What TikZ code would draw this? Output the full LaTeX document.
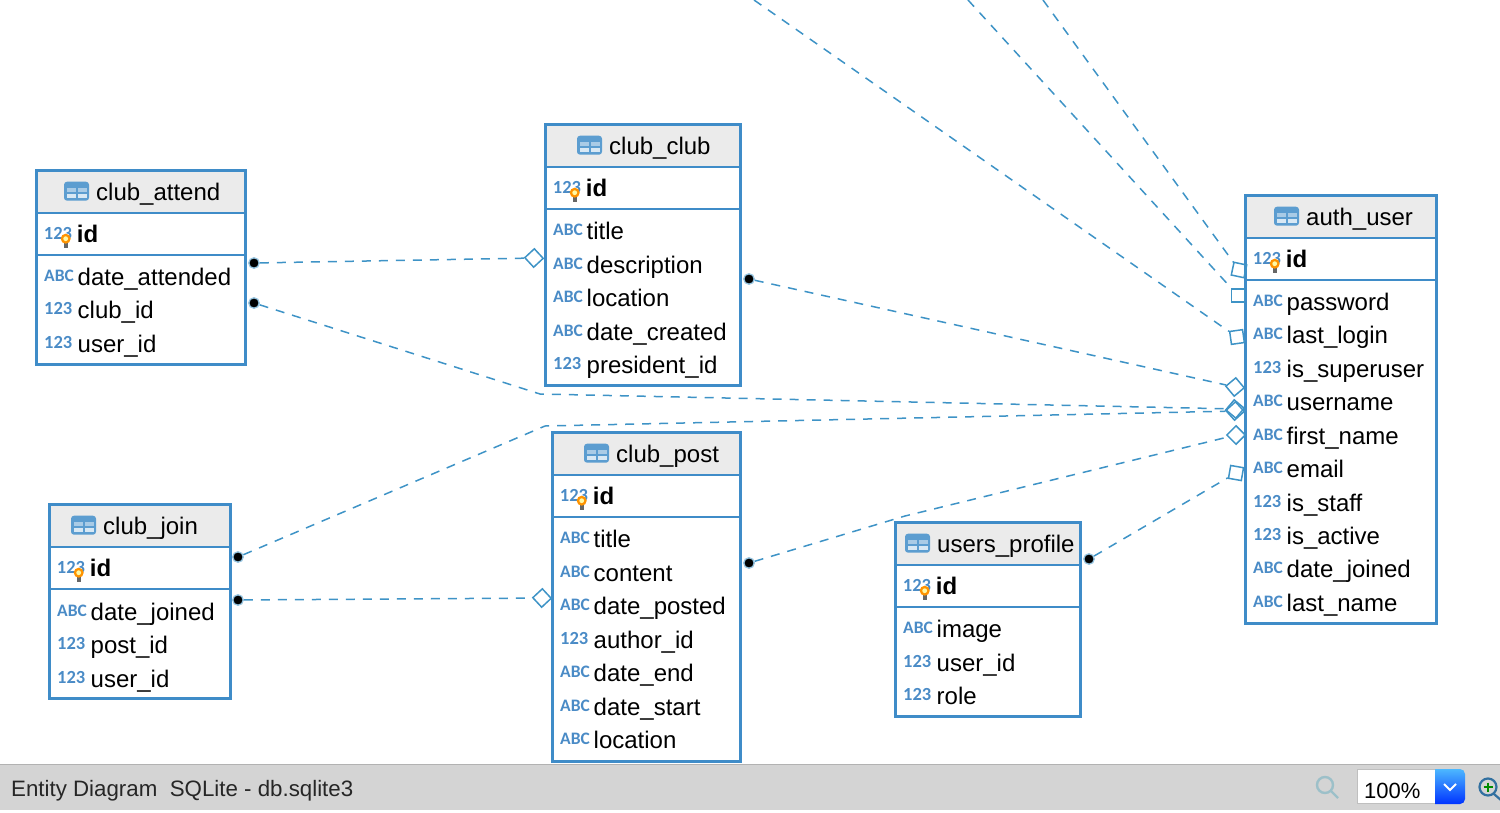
\documentclass[tikz,border=0pt]{standalone}
\usepackage{fontspec}
\setmainfont{Liberation Sans}
\newfontfamily\typefont{Carlito}
\usetikzlibrary{positioning}

\definecolor{erblue}{HTML}{3F8CC8}
\definecolor{linkblue}{HTML}{3E93C6}
\definecolor{typeblue}{HTML}{4A8BC6}
\definecolor{headgray}{HTML}{EBEBEB}
\definecolor{bargray}{HTML}{D4D4D4}

\tikzset{
    tablebox/.style={rectangle, draw=erblue, line width=3.3pt, inner sep=0pt, outer sep=0pt, anchor=north west},
    headband/.style={rectangle, fill=headgray, inner sep=0pt, outer sep=0pt, anchor=north west},
    tabletitle/.style={anchor=base west, inner sep=0pt, font=\fontsize{24}{24}\selectfont},
    fieldname/.style={anchor=base west, inner sep=0pt, font=\fontsize{24}{24}\selectfont},
    idname/.style={anchor=base west, inner sep=0pt, font=\fontsize{24}{24}\selectfont\bfseries},
    abc/.style={anchor=base west, inner sep=0pt, text=typeblue, font=\typefont\fontsize{17.5}{17.5}\selectfont\bfseries, node contents=ABC},
    num/.style={anchor=base west, inner sep=0pt, text=typeblue, font=\typefont\fontsize{18.5}{18.5}\selectfont\bfseries, node contents=123},
    fklink/.style={draw=linkblue, line width=1.5pt, dash pattern=on 9pt off 8pt},
    fkdot/.style={circle, fill=black, draw=linkblue!55, line width=1.3pt, minimum size=10.5pt, inner sep=0pt},
    fkend/.style={rectangle, draw=linkblue, line width=1.5pt, minimum size=13pt, inner sep=0pt, rotate=#1},
    tableicon/.pic={
        \fill[erblue!85, rounded corners=3pt] (-12.5,-9.5) rectangle (12.5,9.5);
        \fill[erblue!45] (-10,-3) rectangle (-1,1);
        \fill[erblue!45] (1,-3) rectangle (10,1);
        \fill[white!80!erblue] (-10,3) rectangle (-1,7);
        \fill[white!80!erblue] (1,3) rectangle (10,7);
    },
    keybulb/.pic={
        \fill[black!60] (-2,3) rectangle (2,9);
        \fill[orange!85!yellow] (0,0) circle (5);
        \fill[yellow!35] (0,0) circle (2.4);
    }
}

% table frame, header, primary key row
\newcommand{\dbtable}[7]{% name, left, top, right, bottom, title x, title
    \node[headband, minimum width=(#4-#2)*1pt, minimum height=42pt] (#1head) at (#2,#3) {};
    \draw[erblue, line width=1.6pt] (#2,#3+42) -- (#4,#3+42);
    \draw[erblue, line width=1.6pt] (#2,#3+84) -- (#4,#3+84);
    \node[tablebox, minimum width=(#4-#2)*1pt, minimum height=(#5-#3)*1pt] (#1) at (#2,#3) {};
    \node[tabletitle] (#1title) at (#6,#3+29.5) {#7};
    \pic at (#6-19.5,#3+20.5) {tableicon};
    \node (#1keytype) at (#2+7,#3+69) [num];
    \pic at (#2+29,#3+68) {keybulb};
    \node[idname] (#1key) at (#2+40,#3+72) {id};
}
\newcommand{\dbfields}[3]{% name, left, fields
    \foreach \ftype/\fname/\fy [count=\i] in {#3} {
        \node (#1type\i) at (#2+7,\fy+4.5) [\ftype];
        \node[fieldname] (#1field\i) at (#2+40.5,\fy+8) {\fname};
    }
}

\begin{document}
\begin{tikzpicture}[x=1pt, y=-1pt]
    \useasboundingbox (0,0) rectangle (1500,812);

    % tables
    \dbtable{attend}{36.7}{170.7}{245.7}{364.7}{96}{club\_attend}
    \dbfields{attend}{37}{abc/date\_attended/277, num/club\_id/310, num/user\_id/344}

    \dbtable{club}{545.7}{124.7}{740.7}{385.7}{609}{club\_club}
    \dbfields{club}{546}{abc/title/231, abc/description/265, abc/location/298, abc/date\_created/332, num/president\_id/365}

    \dbtable{join}{49.7}{504.7}{230.7}{698.7}{103}{club\_join}
    \dbfields{join}{50}{abc/date\_joined/612, num/post\_id/645, num/user\_id/679}

    \dbtable{post}{552.7}{432.7}{740.7}{761.7}{616}{club\_post}
    \dbfields{post}{553}{abc/title/539, abc/content/573, abc/date\_posted/606, num/author\_id/640, abc/date\_end/673, abc/date\_start/707, abc/location/740}

    \dbtable{profile}{895.7}{522.7}{1080.7}{716.7}{937}{users\_profile}
    \dbfields{profile}{896}{abc/image/629, num/user\_id/663, num/role/696}

    \dbtable{auth}{1245.7}{195.7}{1436.7}{623.7}{1306}{auth\_user}
    \dbfields{auth}{1246}{abc/password/302, abc/last\_login/335, num/is\_superuser/369, abc/username/402, abc/first\_name/436, abc/email/469, num/is\_staff/503, num/is\_active/536, abc/date\_joined/569, abc/last\_name/603}

    % relation ends
    \node[fkdot] (attenddota) at (254,263) {};
    \node[fkdot] (attenddotb) at (254,303) {};
    \node[fkdot] (joindota) at (238,557) {};
    \node[fkdot] (joindotb) at (238,600) {};
    \node[fkdot] (clubdot) at (749,279) {};
    \node[fkdot] (postdot) at (749,563) {};
    \node[fkdot] (profiledot) at (1089,559) {};

    \node[fkend=43] (clubend) at (534,258) {};
    \node[fkend=43] (postend) at (542,598) {};
    \node[fkend=40] (authclub) at (1235,387) {};
    \node[fkend=50] (authattend) at (1235,409) {};
    \node[fkend=42] (authjoin) at (1235,411) {};
    \node[fkend=45] (authpost) at (1236,435) {};
    \node[fkend=-10] (authprofile) at (1236,473) {};
    \node[fkend=-12] (authtopa) at (1239,270) {};
    \node[fkend=0] (authtopb) at (1238,295.5) {};
    \node[fkend=8] (authtopc) at (1237,337) {};

    \coordinate (topa) at (1043,0);
    \coordinate (topb) at (968,0);
    \coordinate (topc) at (754,0);
    \coordinate (attendbend) at (540,394);
    \coordinate (joinbend) at (545,426);
    \coordinate (postbend) at (905,516);

    % relations
    \draw[fklink] (attenddota) -- (clubend);
    \draw[fklink] (joindotb) -- (postend);
    \draw[fklink] (clubdot) -- (authclub);
    \draw[fklink] (attenddotb) -- (attendbend) -- (authattend);
    \draw[fklink] (joindota) -- (joinbend) -- (authjoin);
    \draw[fklink] (postdot) -- (postbend) -- (authpost);
    \draw[fklink] (profiledot) -- (authprofile);
    \draw[fklink] (topa) -- (authtopa);
    \draw[fklink] (topb) -- (authtopb);
    \draw[fklink] (topc) -- (authtopc);

    % status bar
    \node[rectangle, fill=bargray, draw=none, inner sep=0pt, outer sep=0pt, minimum width=1500pt, minimum height=46pt, anchor=north west] (statusbar) at (0,764) {};
    \draw[black!30, line width=1pt] (statusbar.north west) -- (statusbar.north east);
    \node[anchor=base west, inner sep=0pt, font=\fontsize{22.3}{22.3}\selectfont, text=black!85] (statustext) at (11,796) {Entity Diagram\ \ SQLite - db.sqlite3};
    \draw[blue!20!cyan!30!gray!60, line width=2.4pt] (1325,785) circle (8) (1331,791) -- (1338,798);
    \node[rectangle, fill=white, draw=black!25, inner sep=0pt, minimum width=78pt, minimum height=34pt, anchor=north west] (zoombox) at (1357,769) {};
    \shade[top color=blue!40!cyan!70!white, bottom color=blue!80!cyan] (1435,769) [rounded corners=5pt] -- (1465,769) -- (1465,804) [sharp corners] -- (1435,804) -- cycle;
    \draw[white, line width=2pt] (1444,784) -- (1450,790) -- (1456,784);
    \node[anchor=base west, inner sep=0pt, font=\fontsize{22}{22}\selectfont] (zoomtext) at (1364,798) {100\%};
    \draw[erblue!80!black, line width=2.2pt] (1488,787) circle (8.5) (1494,794) -- (1502,801);
    \draw[green!55!black, line width=1.6pt] (1483.5,787) -- (1492.5,787) (1488,782.5) -- (1488,791.5);
\end{tikzpicture}
\end{document}
